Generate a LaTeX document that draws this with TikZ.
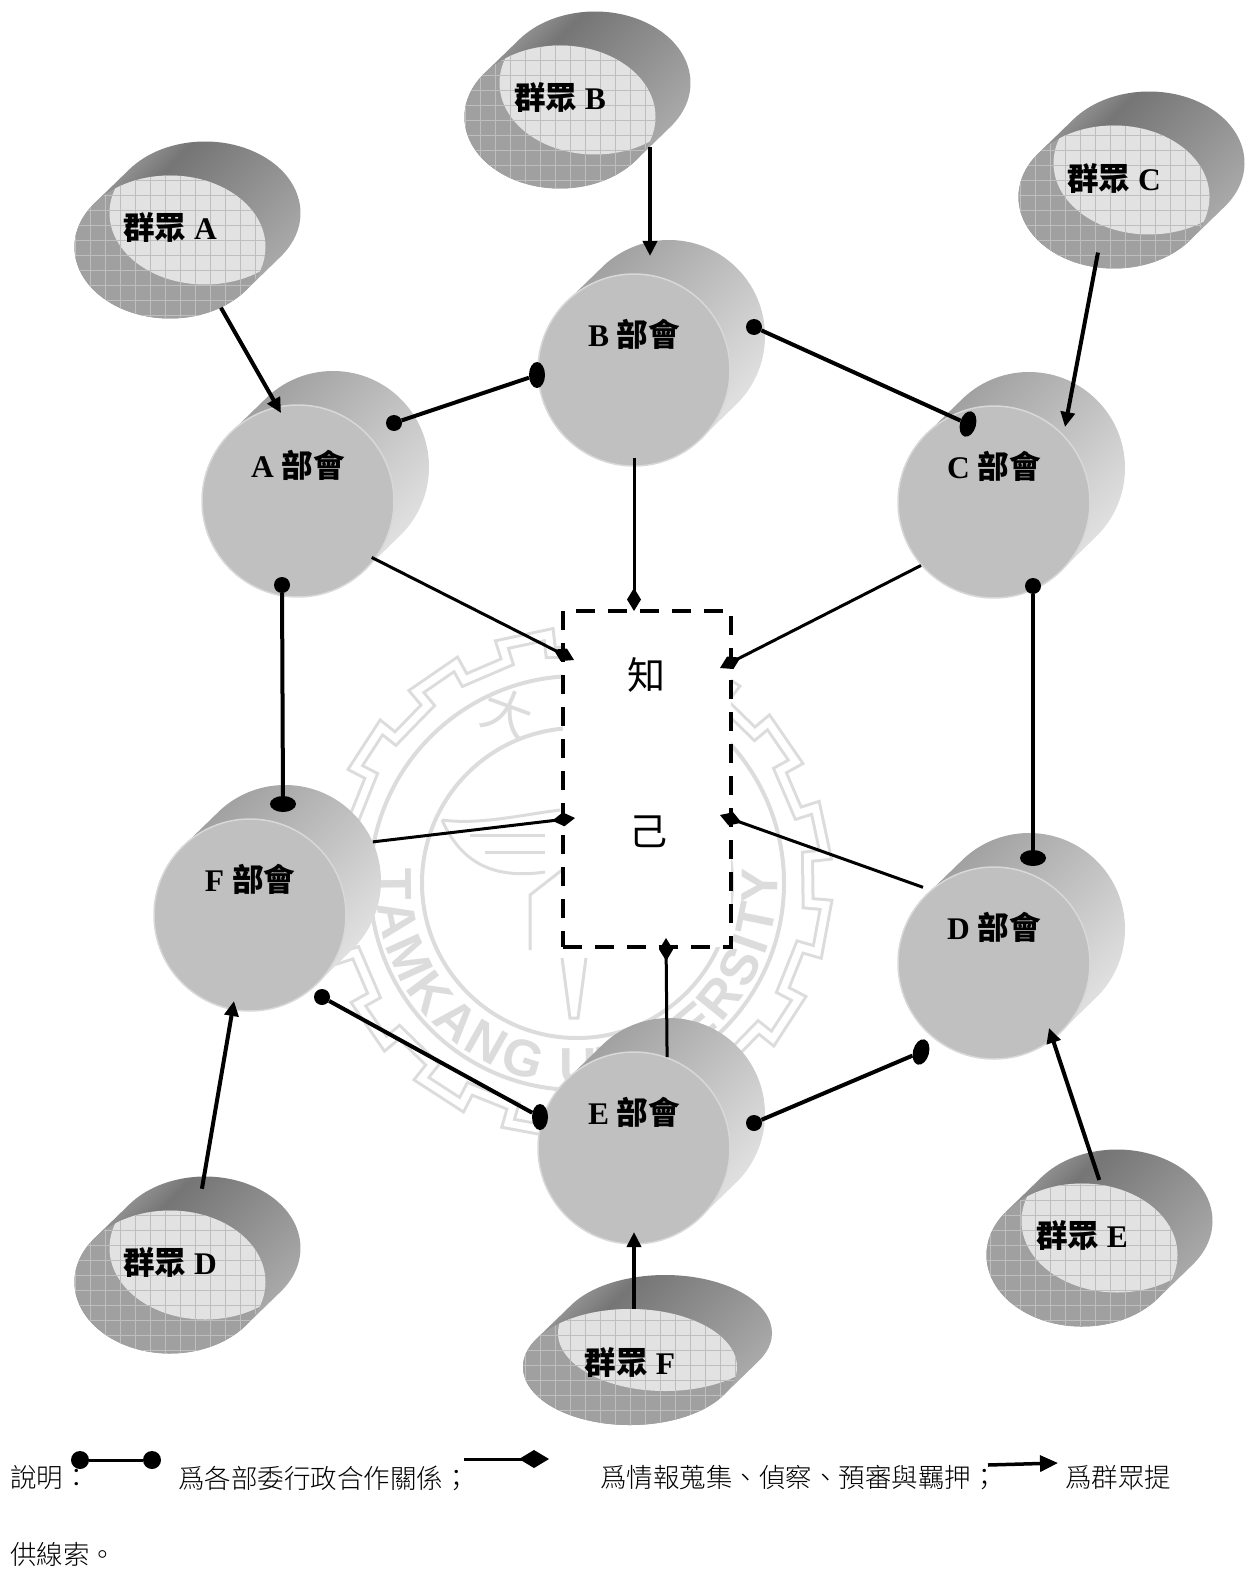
\documentclass[tikz,border=0pt]{standalone}
\usepackage{fontspec}
\usepackage{xcolor}
\usetikzlibrary{arrows.meta,shapes.geometric,decorations.text}
\setmainfont{Liberation Serif}
\setsansfont{Liberation Sans}
\newfontfamily\cjk{Noto Sans CJK TC}
\newfontfamily\cjkxi{Noto Sans CJK TC Light}
\newcommand{\zh}[1]{{\cjk #1}}
\newcommand{\wmfont}{\sffamily\bfseries\fontsize{52}{52}\selectfont\color{yinhui}}
\definecolor{yinhui}{HTML}{DCDCDC}
\definecolor{mian}{HTML}{C0C0C0}
\definecolor{bian}{HTML}{D8D8D8}
\definecolor{qian}{HTML}{A0A0A0}
\definecolor{liang}{HTML}{E2E2E2}
\definecolor{wang}{HTML}{BEBEBE}
\pgfdeclarehorizontalshading{bumen shade}{100bp}{color(0bp)=(black!37); color(30bp)=(black!37); color(60bp)=(black!18); color(75bp)=(black!9); color(100bp)=(black!9)}
\pgfdeclarehorizontalshading{qunzhong shade}{100bp}{color(0bp)=(black!34); color(25bp)=(black!34); color(37bp)=(black!54); color(75bp)=(black!30); color(100bp)=(black!30)}

\begin{document}
\begin{tikzpicture}[x=1pt,y=-1pt,
   bumen/.style={circle,fill=mian,draw=bian,line width=1.5pt,minimum size=192pt,inner sep=0pt},
   bumen back/.style={circle,minimum size=192pt,inner sep=0pt},
   bumen side/.style={shading=bumen shade,shading angle=-45},
   qunzhong/.style={ellipse,fill=qian,inner sep=0pt},
   qunzhong side/.style={shading=qunzhong shade,shading angle=-45},
   biaoti/.style={font=\bfseries\fontsize{31.5}{32}\selectfont,inner sep=0pt},
   zhiji/.style={rectangle,fill=white,draw=black,line width=4pt,dash pattern=on 19pt off 13pt,minimum width=168pt,minimum height=336pt},
   zi/.style={font=\fontsize{38}{38}\selectfont,inner sep=0pt},
   yuan/.style={circle,fill=black,minimum size=16pt,inner sep=0pt},
   bian shu/.style={ellipse,fill=black,minimum width=16pt,minimum height=26pt,inner sep=0pt},
   bian heng/.style={ellipse,fill=black,minimum width=26pt,minimum height=16pt,inner sep=0pt},
   xiezuo/.style={line width=4pt},
   qingbao/.style={line width=3pt,-{Diamond[length=23pt,width=14pt]}},
   xiansuo/.style={line width=4pt,-{Triangle[length=15pt,width=14pt]}},
   shuoming/.style={font=\fontsize{26.5}{27}\selectfont\cjkxi,anchor=west,inner sep=0pt},
   yin/.style={draw=yinhui,line width=4pt}]

  \useasboundingbox (0,0) rectangle (1254,1570);

  \coordinate (wm) at (577,883);
  \draw[yin] (wm) circle[radius=155pt];
  \draw[yin] (wm) circle[radius=207pt];
  \begin{scope}[shift={(wm)}]
    \draw[yinhui,line width=3pt,double=white,double distance=7pt,line join=miter]
      (5:232) \foreach \a in {5,27.5,...,350} { -- (\a:250) -- (\a+11:250) -- (\a+11:232) -- (\a+22.5:232) } -- cycle;
  \end{scope}
  \path[decorate,decoration={text along path,text={|\wmfont|TAMKANG UNIVERSITY},text align={fit to path}}]
    (wm) ++(176:201pt) arc[start angle=176,delta angle=188,radius=201pt];
  \node[font=\cjk\fontsize{50}{50}\selectfont,text=yinhui,rotate=-20,inner sep=0pt] (wm da) at (507,713) {大};
  \draw[yin,line width=3pt] (442,820) .. controls (480,825) and (520,815) .. (560,810);
  \draw[yin,line width=3pt] (442,820) .. controls (460,860) and (490,880) .. (545,872);
  \draw[yin,line width=3pt] (470,835) -- (545,835);
  \draw[yin,line width=3pt] (485,852) -- (545,852);
  \draw[yin,line width=3pt] (530,950) -- (530,895) -- (562,870);
  \draw[yin,line width=3pt] (562,958) -- (570,1018) -- (578,1018) -- (586,958);

  \foreach \nm/\x/\y/\lab in {a/298/501/A,b/634/370/B,c/994/502/C,f/250/915/F,d/994/963/D,e/634/1148/E}{
    \shade[bumen side] (\x,\y) ++(35,-34) ++(-44:96pt) arc[start angle=-44,delta angle=180,radius=96pt]
      -- ++(-35,34) arc[start angle=136,delta angle=180,radius=96pt] -- cycle;
    \node[bumen back] (\nm b) at (\x+35,\y-34) {};
    \node[bumen] (\nm) at (\x,\y) {};
    \node[biaoti] (\nm t) at (\x,\y-36) {\lab{} \zh{部會}};
  }

  \foreach \nm/\x/\y/\rx/\ry/\t/\ly/\lab in {qa/170/247/95.5/71.5/-38/228/A,qb/560/117/95.5/71.5/-38/98/B,qc/1114/197/95.5/71.5/-38/179/C,qd/170/1282/95.5/71.5/-38/1262/D,qe/1082/1255/95.5/71.5/-38/1235/E,qf/630/1367/107/58/-29/1362/F}{
    \shade[qunzhong side] (\x,\y) ++(35,-34) ++(\t:\rx pt and \ry pt) arc[start angle=\t,delta angle=180,x radius=\rx pt,y radius=\ry pt]
      -- ++(-35,34) arc[start angle=\t+180,delta angle=180,x radius=\rx pt,y radius=\ry pt] -- cycle;
    \node[qunzhong,minimum width=2*\rx pt,minimum height=2*\ry pt] (\nm) at (\x,\y) {};
    \begin{scope}
      \clip (\x,\y) ellipse[x radius=\rx pt,y radius=\ry pt];
      \fill[liang] (\x+35,\y-34) ellipse[x radius=\rx pt,y radius=\ry pt];
      \draw[wang,line width=0.6pt,step=15pt] (\x-120,\y-90) grid (\x+120,\y+90);
    \end{scope}
    \node[biaoti] (\nm t) at (\x,\ly) {\zh{群眾} \lab};
  }

  \node[zhiji] (zj) at (646.5,779) {};
  \node[zi] (zj a) at (646,675) {\zh{知}};
  \node[zi] (zj b) at (648,832) {\zh{己}};

  \foreach \nm/\x/\y in {ba/650/256,ca/1065/427,aa/281/413,da/234/1001,ea/1049/1028,fa/634/1232,
      zj1/634/611,zj2/574/660,zj3/720/668,zj4/575/818,zj5/720/815,zj6/666/938}
    \coordinate (\nm) at (\x,\y);

  \draw[xiansuo] (qa.-50) -- (aa);
  \draw[xiansuo] (qb.-19 -| ba) -- (ba);
  \draw[xiansuo,shorten <=-15pt] (qc.-105) -- (ca);
  \draw[xiansuo,shorten <=25pt] (qd.68) -- (da);
  \draw[xiansuo,shorten <=5pt] (qe.75) -- (ea);
  \draw[xiansuo] (qf.85 -| fa) -- (fa);

  \draw[qingbao,shorten <=-4pt] (a.-37) -- (zj2);
  \draw[qingbao,shorten <=-9pt] (b.-90 -| zj1) -- (zj1);
  \draw[qingbao] (c.-139) -- (zj3);
  \draw[qingbao] (fb.24) -- (zj4);
  \draw[qingbao,shorten <=8pt] (d.131) -- (zj5);
  \draw[qingbao] (e.70) -- (zj6);

  \node[yuan] (ab1) at (394,423) {};
  \node[bian shu] (ab2) at (537,375) {};
  \node[yuan] (bc1) at (754,327) {};
  \node[bian shu,rotate=-15] (bc2) at (968,424) {};
  \node[yuan] (af1) at (282,585) {};
  \node[bian heng] (af2) at (283,804) {};
  \node[yuan] (cd1) at (1033,586) {};
  \node[bian heng] (cd2) at (1033,858) {};
  \node[yuan] (fe1) at (322,997) {};
  \node[bian shu] (fe2) at (540,1117) {};
  \node[yuan] (ed1) at (754,1123) {};
  \node[bian shu,rotate=-15] (ed2) at (921,1052) {};
  \foreach \from/\to in {ab1/ab2,bc1/bc2,af1/af2,cd1/cd2,fe1/fe2,ed1/ed2} \draw[xiezuo] (\from) -- (\to);

  \node[shuoming] (sm1) at (10,1478) {說明：};
  \node[yuan,minimum width=16pt,minimum height=18pt] (tl1) at (80,1460) {};
  \node[yuan,minimum width=16pt,minimum height=18pt] (tl2) at (152,1460) {};
  \draw[xiezuo,line width=3pt] (tl1) -- (tl2);
  \node[shuoming] (sm2) at (178,1478) {爲各部委行政合作關係；};
  \coordinate (tl3) at (464,1459);
  \coordinate (tl4) at (549,1459);
  \draw[line width=3pt,-{Diamond[length=30pt,width=18pt]}] (tl3) -- (tl4);
  \node[shuoming] (sm3) at (600,1478) {爲情報蒐集、偵察、預審與羈押；};
  \coordinate (tl5) at (988,1465);
  \coordinate (tl6) at (1058,1463);
  \draw[line width=3.5pt,-{Triangle[length=18pt,width=16pt]}] (tl5) -- (tl6);
  \node[shuoming] (sm4) at (1065,1478) {爲群眾提};
  \node[shuoming] (sm5) at (10,1554) {供線索。};
\end{tikzpicture}
\end{document}
